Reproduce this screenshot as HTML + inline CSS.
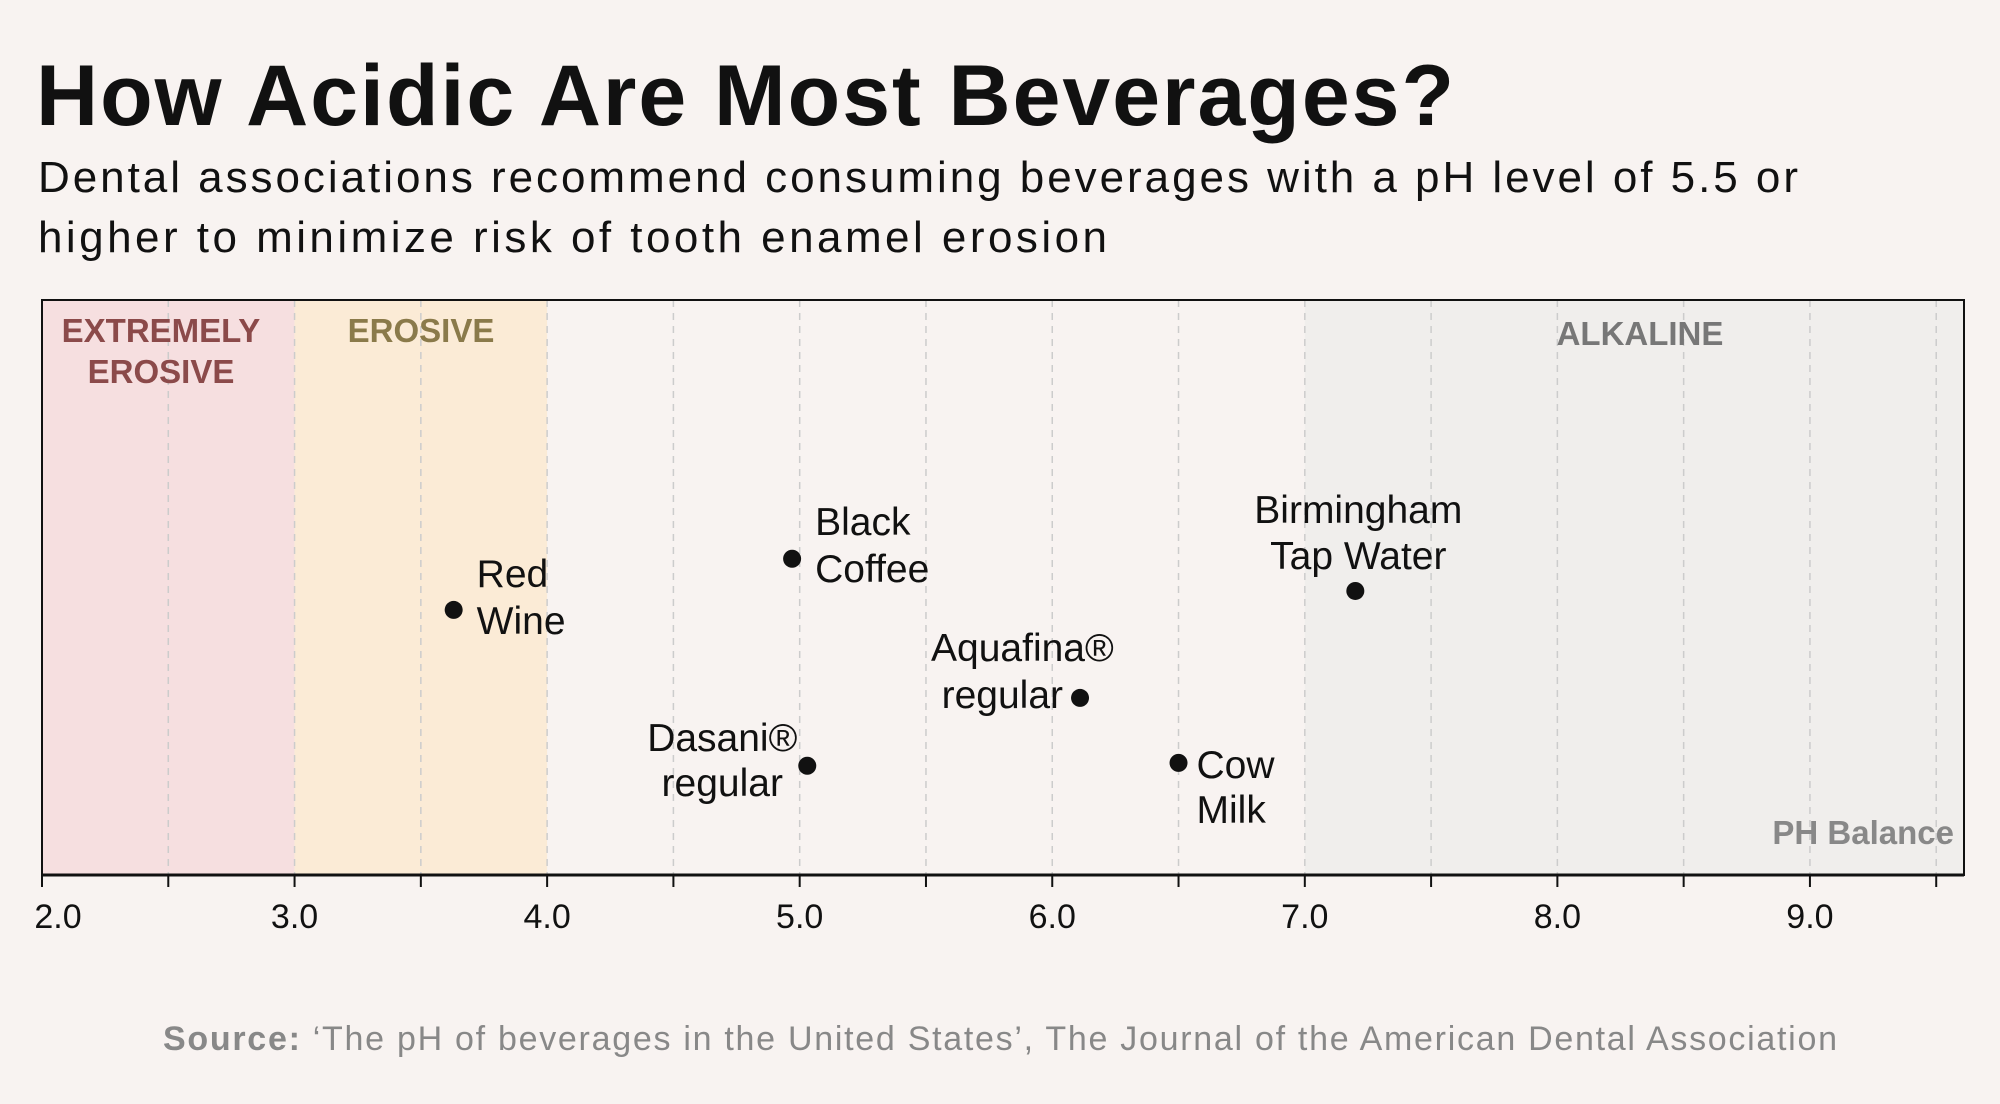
<!DOCTYPE html>
<html><head><meta charset="utf-8"><style>
html,body{margin:0;padding:0;background:#f8f3f1;}
svg{display:block;font-family:"Liberation Sans","DejaVu Sans",sans-serif;}
</style></head><body>
<svg id="chart" width="2000" height="1104" viewBox="0 0 2000 1104" xmlns="http://www.w3.org/2000/svg">
<rect width="2000" height="1104" fill="#f8f3f1"/>
<text x="36" y="125" font-size="86" font-weight="bold" fill="#111" textLength="1418" lengthAdjust="spacing">How Acidic Are Most Beverages?</text>
<text x="38" y="192" font-size="44" fill="#111" textLength="1760" lengthAdjust="spacing">Dental associations recommend consuming beverages with a pH level of 5.5 or</text>
<text x="38" y="252" font-size="44" fill="#111" textLength="1069" lengthAdjust="spacing">higher to minimize risk of tooth enamel erosion</text>
<g id="plot"></g>
<text x="163" y="1050" font-size="34" fill="#888" textLength="1674" lengthAdjust="spacing"><tspan font-weight="bold">Source:</tspan> ‘The pH of beverages in the United States’, The Journal of the American Dental Association</text>
</svg>
<script>
const beverages = ["Red Wine","Black Coffee","Dasani® regular","Aquafina® regular","Cow Milk","Birmingham Tap Water"];
const phValues = [3.63, 4.97, 5.03, 6.11, 6.5, 7.2];
const jitterY = [0.461, 0.55, 0.19, 0.308, 0.195, 0.494];
const tickValues = [2,3,4,5,6,7,8,9];
const tickLabels = ["2.0","3.0","4.0","5.0","6.0","7.0","8.0","9.0"];
const bandStarts = [2, 3, 7];
const bandEnds = [3, 4, 9.61];
const bandNames = ["extremely-erosive","erosive","alkaline"];

const L=42, R=1964, T=300, B=875, xMin=2, xMax=9.61;
const xs = v => L + (v - xMin) / (xMax - xMin) * (R - L);
const ys = v => B - v * (B - T);
const NS="http://www.w3.org/2000/svg";
const g=document.getElementById('plot');
function mk(tag, attrs, parent){const e=document.createElementNS(NS,tag);for(const k in attrs)e.setAttribute(k,attrs[k]);(parent||g).appendChild(e);return e;}

const bandFills=["#f6dfe0","#fbebd6","#f0eeec"];
bandStarts.forEach((s,i)=>{
  const r=mk('rect',{x:xs(s),y:T,width:xs(bandEnds[i])-xs(s),height:B-T,fill:bandFills[i]});
  
  
});
for(let v=2.5; v<9.6; v+=0.5){
  const l=mk('line',{x1:xs(v),x2:xs(v),y1:T,y2:B,stroke:"#ccc",'stroke-width':1.5,'stroke-dasharray':"7 6"});
  
  
}
const fr=mk('rect',{x:L,y:T,width:R-L,height:B-T,fill:"none",stroke:"#111",'stroke-width':2});


const ax=mk('line',{x1:L,x2:R,y1:B,y2:B,stroke:"#111",'stroke-width':3});


for(let v=2; v<9.7; v+=0.5){
  const t=mk('line',{x1:xs(v),x2:xs(v),y1:B,y2:B+12,stroke:"#111",'stroke-width':2});
  
  
}
tickValues.forEach((v,i)=>{
  const t=mk('text',{x:v===2?xs(v)+16:xs(v),y:928,'text-anchor':"middle",'font-size':34,fill:"#111"});
  t.textContent=tickLabels[i];
  
  
});
function label(txt,x,y,col,name,anchor){const t=mk('text',{x:x,y:y,'text-anchor':anchor||"middle",'font-size':33,'font-weight':"bold",fill:col});t.textContent=txt;}
label("EXTREMELY",161,342,"#8b4a4a","extremely-erosive-label");
label("EROSIVE",161,383,"#8b4a4a","extremely-erosive-label-2");
label("EROSIVE",421,342,"#8a7a4a","erosive-label");
label("ALKALINE",1640,345,"#777","alkaline-label");
label("PH Balance",1954,844,"#888","ph-balance-label","end");

const layouts=[["start",23,-23,24,23],["start",23,-24,23,23],["middle",-85,-15,30,-85],["end",-17,-37,10,-17],["start",18,15,60,18],["middle",3,-68,-22,3]];
const lines=[["Red","Wine"],["Black","Coffee"],["Dasani®","regular"],["Aquafina®","regular"],["Cow","Milk"],["Birmingham","Tap Water"]];
beverages.forEach((b,i)=>{
  const cx=xs(phValues[i]), cy=ys(jitterY[i]);
  const c=mk('circle',{cx:cx,cy:cy,r:9,fill:"#111"});
  
  
  const lo=layouts[i];
  let a1=lo[0], x1=cx+lo[1];
  if(i===3){a1="start"; x1=cx-149;}
  const t1=mk('text',{x:x1,y:cy+lo[2],'text-anchor':a1,'font-size':39,fill:"#111"});
  t1.textContent=lines[i][0];
  
  
  const t2=mk('text',{x:cx+lo[4],y:cy+lo[3],'text-anchor':lo[0],'font-size':39,fill:"#111"});
  t2.textContent=lines[i][1];
  
  
});
</script>
</body></html>
